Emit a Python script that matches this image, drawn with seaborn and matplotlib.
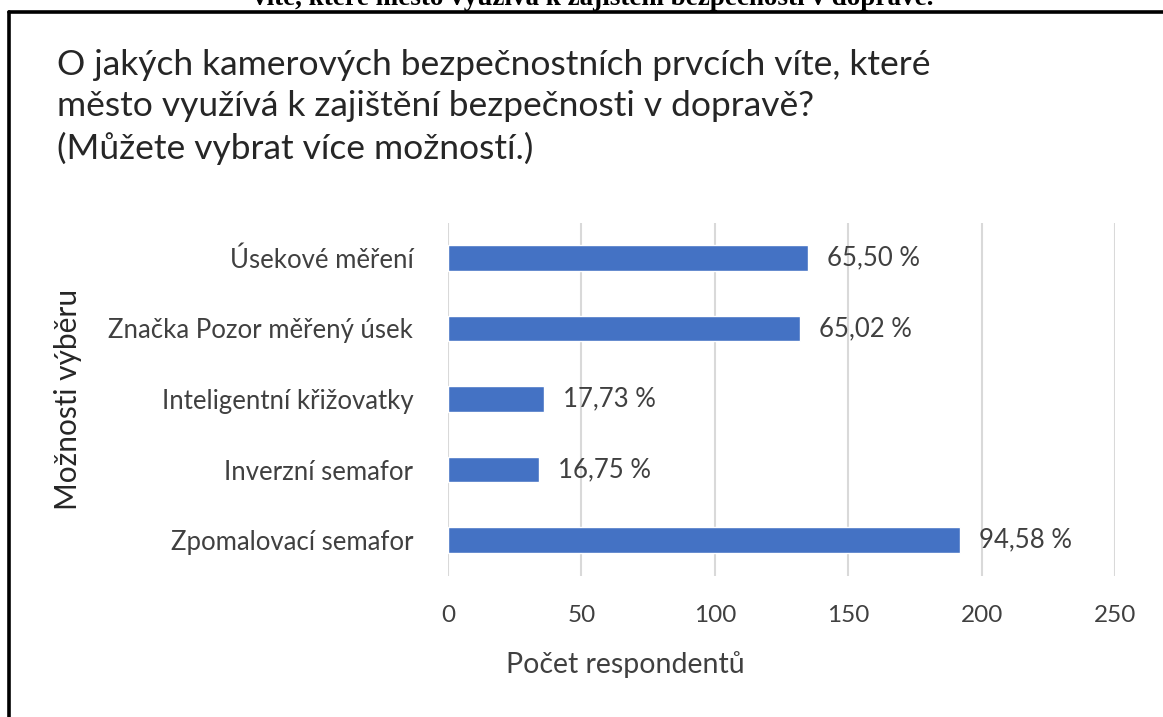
import matplotlib
matplotlib.use("Agg")
import matplotlib.pyplot as plt
import seaborn as sns
import pandas as pd
from matplotlib.lines import Line2D

categories = ["Úsekové měření", "Značka Pozor měřený úsek", "Inteligentní křižovatky",
              "Inverzní semafor", "Zpomalovací semafor"]
counts = [135, 132, 36, 34, 192]
pct_labels = ["65,50 %", "65,02 %", "17,73 %", "16,75 %", "94,58 %"]
x_ticks = [0, 50, 100, 150, 200, 250]

title = ("O jakých kamerových bezpečnostních prvcích víte, které\n"
         "město využívá k zajištění bezpečnosti v dopravě?\n"
         "(Můžete vybrat více možností.)")
cut_caption = "víte, které město využívá k zajištění bezpečnosti v dopravě."

sns.set_theme(style="white")
FONT = ["Lato", "DejaVu Sans"]
plt.rcParams["font.family"] = FONT

W, H = 1163, 717
fig = plt.figure(figsize=(W / 100, H / 100), dpi=100)
ax = fig.add_axes([448 / W, 1 - 575.5 / H, 667 / W, 353 / H])

df = pd.DataFrame({"kat": categories, "n": counts})
sns.barplot(data=df, y="kat", x="n", ax=ax, color="#4472C4", width=0.36,
            saturation=1, orient="h")

ax.set_xlim(0, 250)
ax.set_ylim(4.5, -0.5)
ax.set_xticks(x_ticks)
ax.set_xticklabels([str(t) for t in x_ticks])
for s in ax.spines.values():
    s.set_visible(False)
ax.grid(axis="x", color="#d9d9d9", linewidth=1.5)
ax.grid(axis="y", visible=False)
ax.set_axisbelow(True)
ax.tick_params(axis="x", length=0, pad=21, labelsize=17.5, colors="#404040")
ax.tick_params(axis="y", length=0, pad=25, labelsize=18.5, colors="#404040")

for i, (v, lab) in enumerate(zip(counts, pct_labels)):
    ax.annotate(lab, xy=(v, i), xytext=(19, 0), textcoords="offset pixels",
                va="center", ha="left", fontsize=18.5, color="#404040")

ax.set_xlabel("Počet respondentů", fontsize=20.5, color="#404040")
ax.xaxis.set_label_coords((625 - 448) / 667, -0.215)
ax.set_ylabel("Možnosti výběru", fontsize=21.5, color="#262626")
ax.yaxis.set_label_coords((82 - 448) / 667, 0.5)

fig.text(57 / W, 1 - 49 / H, title, ha="left", va="top", fontsize=25.5,
         color="#262626", linespacing=1.36)

fig.text(593 / W, 1 + 2 / H, cut_caption, ha="center", va="center",
         fontsize=19.5, fontweight="bold", family=["Liberation Serif", "DejaVu Serif"],
         color="black")

# frame lines (top and left)
fig.add_artist(Line2D([8.5 / W, 1.0], [1 - 11.5 / H, 1 - 11.5 / H],
                      transform=fig.transFigure, color="black", linewidth=2.6))
fig.add_artist(Line2D([8.5 / W, 8.5 / W], [0, 1 - 11.5 / H],
                      transform=fig.transFigure, color="black", linewidth=2.6))

fig.savefig("out.png", dpi=100)
